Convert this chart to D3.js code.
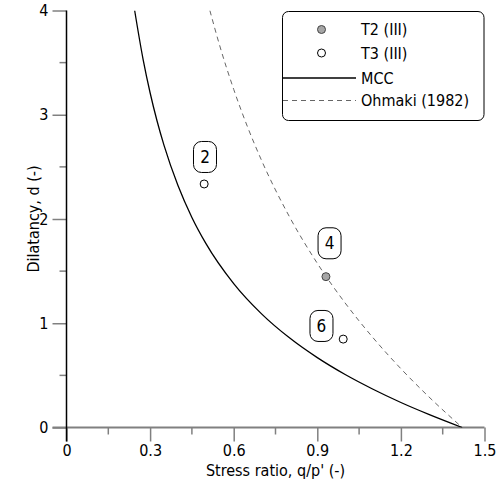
<!DOCTYPE html>
<html>
<head>
<meta charset="utf-8">
<script src="https://cdn.jsdelivr.net/npm/d3@7"></script>
<style>
  html, body { margin: 0; padding: 0; background: #fff; }
  svg { display: block; }
  text { font-family: "DejaVu Sans Condensed", "DejaVu Sans", sans-serif; }
</style>
</head>
<body>
<svg id="chart" width="496" height="496"></svg>
<script>
// ---- data ----
const xTicks = [0, 0.3, 0.6, 0.9, 1.2, 1.5];
const xTickLabels = ["0", "0.3", "0.6", "0.9", "1.2", "1.5"];
const xMinorTicks = [0.15, 0.45, 0.75, 1.05, 1.35];
const yTicks = [0, 1, 2, 3, 4];
const yTickLabels = ["0", "1", "2", "3", "4"];
const yMinorTicks = [0.5, 1.5, 2.5, 3.5];

// MCC curve
const mccEta = [0.2446, 0.275, 0.3, 0.325, 0.35, 0.4, 0.45, 0.5, 0.6, 0.7, 0.8, 0.9, 1.0, 1.1, 1.2, 1.3, 1.42];
const mccD   = [4.0, 3.529, 3.211, 2.940, 2.706, 2.321, 2.015, 1.766, 1.380, 1.090, 0.860, 0.670, 0.508, 0.367, 0.240, 0.126, 0.0];

// Ohmaki (1982) curve
const ohmEta = [0.5145, 0.55, 0.6, 0.65, 0.7, 0.8, 0.9, 1.0, 1.1, 1.2, 1.3, 1.42];
const ohmD   = [4.0, 3.661, 3.244, 2.881, 2.562, 2.022, 1.575, 1.194, 0.861, 0.564, 0.295, 0.0];

// test points
const t2Eta = [0.931];
const t2D   = [1.447];
const t3Eta = [0.494, 0.993];
const t3D   = [2.336, 0.848];

// annotation labels (data coords)
const labelText = ["2", "4", "6"];
const labelEta  = [0.497, 0.944, 0.915];
const labelD    = [2.595, 1.767, 0.974];

const legendLabels = ["T2 (III)", "T3 (III)", "MCC", "Ohmaki (1982)"];

// ---- drawing ----
const svg = d3.select("#chart");
const x = d3.scaleLinear().domain([0, 1.5]).range([66.5, 484.5]);
const y = d3.scaleLinear().domain([0, 4]).range([427.5, 10.5]);
const grey = "#808080";

// clip
svg.append("clipPath").attr("id", "clip")
  .append("rect").attr("x", x(0)).attr("y", y(4)).attr("width", x(1.5) - x(0)).attr("height", y(0) - y(4));

// x axis
const gx = svg.append("g").attr("transform", `translate(0,${y(0)})`);
gx.call(d3.axisBottom(x).tickValues(xTicks).tickFormat((d, i) => xTickLabels[i]).tickSize(14).tickSizeOuter(0).tickPadding(3));
gx.select(".domain").remove();
gx.selectAll(".tick line").attr("stroke", grey).attr("stroke-width", 1.5);
gx.selectAll(".tick text").attr("font-size", 16).attr("fill", "#000")
  .attr("font-family", '"DejaVu Sans Condensed", "DejaVu Sans", sans-serif');
gx.selectAll(".minor").data(xMinorTicks).enter().append("line")
  .attr("x1", d => x(d)).attr("x2", d => x(d)).attr("y1", 0).attr("y2", 7)
  .attr("stroke", grey).attr("stroke-width", 1.5);

// y axis
const gy = svg.append("g").attr("transform", `translate(${x(0)},0)`);
gy.call(d3.axisLeft(y).tickValues(yTicks).tickFormat((d, i) => yTickLabels[i]).tickSize(14).tickSizeOuter(0).tickPadding(4));
gy.select(".domain").remove();
gy.selectAll(".tick line").attr("stroke", grey).attr("stroke-width", 1.5);
gy.selectAll(".tick text").attr("font-size", 16).attr("fill", "#000")
  .attr("font-family", '"DejaVu Sans Condensed", "DejaVu Sans", sans-serif');
gy.selectAll(".minor").data(yMinorTicks).enter().append("line")
  .attr("y1", d => y(d)).attr("y2", d => y(d)).attr("x1", 0).attr("x2", -7)
  .attr("stroke", grey).attr("stroke-width", 1.5);

// axis lines
svg.append("line").attr("x1", x(0) - 14).attr("x2", x(1.5)).attr("y1", y(0)).attr("y2", y(0))
  .attr("stroke", grey).attr("stroke-width", 2);
svg.append("line").attr("x1", x(0)).attr("x2", x(0)).attr("y1", y(4)).attr("y2", y(0) + 14)
  .attr("stroke", "#000").attr("stroke-width", 1.5);

// axis titles
svg.append("text").attr("x", (x(0) + x(1.5)) / 2).attr("y", 476).attr("text-anchor", "middle")
  .attr("font-size", 16).text("Stress ratio, q/p' (-)");
svg.append("text").attr("transform", `translate(33,${(y(0) + y(4)) / 2}) rotate(-90)`)
  .attr("text-anchor", "middle").attr("dy", "0.35em").attr("font-size", 16).text("Dilatancy, d (-)");

// curves
const line = d3.line().x(d => x(d[0])).y(d => y(d[1])).curve(d3.curveMonotoneX);
const plot = svg.append("g").attr("clip-path", "url(#clip)");
plot.append("path").datum(mccEta.map((e, i) => [e, mccD[i]]))
  .attr("d", line).attr("fill", "none").attr("stroke", "#000").attr("stroke-width", 1.3);
plot.append("path").datum(ohmEta.map((e, i) => [e, ohmD[i]]))
  .attr("d", line).attr("fill", "none").attr("stroke", "#666").attr("stroke-width", 1).attr("stroke-dasharray", "5,4");

// points
svg.selectAll(".t3").data(t3Eta.map((e, i) => [e, t3D[i]])).enter().append("circle")
  .attr("cx", d => x(d[0])).attr("cy", d => y(d[1])).attr("r", 4)
  .attr("fill", "#fff").attr("stroke", "#000").attr("stroke-width", 1);
svg.selectAll(".t2").data(t2Eta.map((e, i) => [e, t2D[i]])).enter().append("circle")
  .attr("cx", d => x(d[0])).attr("cy", d => y(d[1])).attr("r", 4)
  .attr("fill", "#a6a6a6").attr("stroke", "#444").attr("stroke-width", 1);

// annotation labels
const lab = svg.selectAll(".lab").data(labelText).enter().append("g")
  .attr("transform", (d, i) => `translate(${x(labelEta[i])},${y(labelD[i])})`);
lab.append("rect").attr("x", -11.5).attr("y", -15.5).attr("width", 23).attr("height", 31)
  .attr("rx", 8).attr("ry", 8).attr("fill", "#fff").attr("stroke", "#000").attr("stroke-width", 1);
lab.append("text").attr("text-anchor", "middle").attr("dy", "0.36em").attr("font-size", 17).text(d => d);

// legend
const lg = svg.append("g");
lg.append("rect").attr("x", 282.5).attr("y", 11.5).attr("width", 201.5).attr("height", 109)
  .attr("rx", 6).attr("ry", 6).attr("fill", "#fff").attr("stroke", "#000").attr("stroke-width", 1);
const ly = [29.5, 53, 78, 100.5];
lg.append("circle").attr("cx", 321.5).attr("cy", ly[0]).attr("r", 4)
  .attr("fill", "#a6a6a6").attr("stroke", "#444");
lg.append("circle").attr("cx", 321.5).attr("cy", ly[1]).attr("r", 4)
  .attr("fill", "#fff").attr("stroke", "#000");
lg.append("line").attr("x1", 283).attr("x2", 356).attr("y1", ly[2]).attr("y2", ly[2])
  .attr("stroke", "#000").attr("stroke-width", 1.3);
lg.append("line").attr("x1", 283).attr("x2", 356).attr("y1", ly[3]).attr("y2", ly[3])
  .attr("stroke", "#666").attr("stroke-width", 1).attr("stroke-dasharray", "5,4");
lg.selectAll(".lt").data(legendLabels).enter().append("text")
  .attr("x", 361).attr("y", (d, i) => ly[i]).attr("dy", "0.36em").attr("font-size", 16).text(d => d);
</script>
</body>
</html>
